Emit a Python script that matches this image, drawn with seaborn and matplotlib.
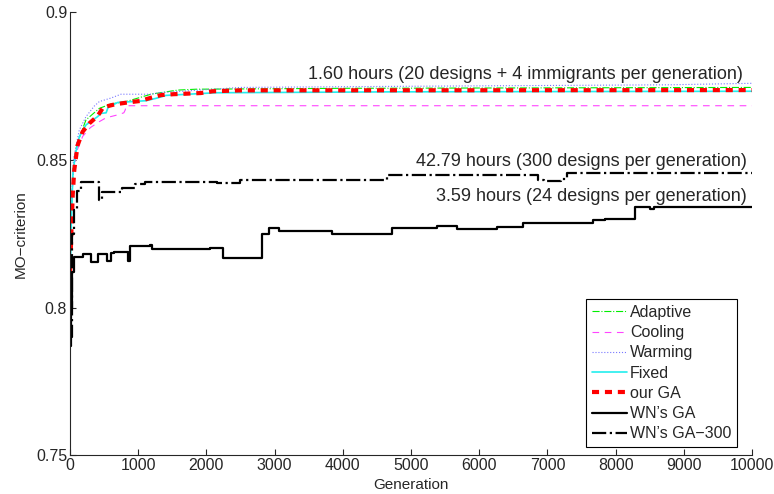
import matplotlib
matplotlib.use('Agg')
import matplotlib.pyplot as plt
import seaborn as sns
import pandas as pd

adaptive_gen = [0, 20, 50, 100, 160, 235, 430, 600, 821, 1188, 1408, 1579, 1848, 4000, 10000]
adaptive_val = [0.810, 0.832, 0.848, 0.855, 0.859, 0.8636, 0.8675, 0.8690, 0.8698, 0.8723, 0.8731, 0.8737, 0.8740, 0.8743, 0.8746]

cooling_gen = [0, 20, 50, 100, 186, 300, 430, 528, 699, 790, 811, 820, 10000]
cooling_val = [0.808, 0.830, 0.846, 0.853, 0.858, 0.861, 0.863, 0.8643, 0.8653, 0.866, 0.867, 0.8684, 0.8684]

warming_gen = [0, 20, 50, 100, 137, 235, 357, 430, 600, 748, 1188, 1300, 2500, 5000, 8800, 10000]
warming_val = [0.810, 0.835, 0.850, 0.856, 0.8602, 0.8647, 0.8683, 0.8698, 0.8710, 0.8723, 0.8723, 0.8728, 0.8746, 0.8750, 0.8755, 0.8760]

fixed_gen = [0, 20, 44, 80, 137, 235, 405, 455, 530, 560, 674, 700, 1114, 1261, 1408, 2141, 4736, 10000]
fixed_val = [0.805, 0.830, 0.8456, 0.852, 0.8579, 0.8619, 0.8647, 0.8658, 0.8660, 0.8679, 0.8692, 0.8695, 0.8701, 0.8709, 0.8719, 0.8728, 0.8731, 0.8733]

ourga_gen = [0, 20, 40, 63, 112, 186, 283, 405, 489, 665, 845, 1026, 1188, 1334, 1515, 1725, 1920, 2092, 2500, 10000]
ourga_val = [0.811, 0.825, 0.838, 0.8466, 0.855, 0.8596, 0.8624, 0.8649, 0.8679, 0.8689, 0.8695, 0.870, 0.8711, 0.872, 0.8723, 0.8725, 0.8727, 0.8733, 0.8736, 0.8737]

wn_gen = [0, 15, 30, 63, 186, 306, 404, 550, 599, 640, 855, 880, 1173, 1198, 2053, 2248, 2810, 2923, 3065,
          3837, 4726, 5377, 5670, 6256, 6647, 7673, 7845, 8284, 8504, 8560, 10000]
wn_val = [0.787, 0.800, 0.812, 0.8172, 0.8181, 0.8154, 0.8181, 0.8159, 0.8184, 0.8187, 0.8159, 0.8208, 0.8212,
          0.8197, 0.8201, 0.8167, 0.8248, 0.8268, 0.8259, 0.8248, 0.8270, 0.8276, 0.8266, 0.8272, 0.8287,
          0.8297, 0.8300, 0.8340, 0.8333, 0.8340, 0.8340]

wn300_gen = [0, 30, 60, 110, 160, 430, 470, 758, 953, 1100, 2151, 2493, 4643, 6867, 6950, 7200, 7283, 10000]
wn300_val = [0.790, 0.825, 0.833, 0.8395, 0.8427, 0.8364, 0.8392, 0.8404, 0.8418, 0.8426, 0.8421, 0.8432,
             0.8449, 0.8432, 0.8428, 0.8436, 0.8457, 0.8457]

notes = ['1.60 hours (20 designs + 4 immigrants per generation)',
         '42.79 hours (300 designs per generation)',
         '3.59 hours (24 designs per generation)']
note_x = [9870, 9930, 9930]
note_y = [0.8776, 0.8480, 0.8360]

sns.set_style('ticks')
plt.rcParams['font.family'] = ['Liberation Sans', 'DejaVu Sans']
plt.rcParams['xtick.direction'] = 'in'
plt.rcParams['ytick.direction'] = 'in'

fig = plt.figure(figsize=(7.74, 4.94), dpi=100)
ax = fig.add_axes([0.0904, 0.0789, 0.8812, 0.8958])

sns.lineplot(x=adaptive_gen, y=adaptive_val, ax=ax, color='#00ee00', lw=0.8, linestyle='-.', label='Adaptive')
sns.lineplot(x=cooling_gen, y=cooling_val, ax=ax, color='#ff44ff', lw=0.8, dashes=(6, 5), label='Cooling')
sns.lineplot(x=warming_gen, y=warming_val, ax=ax, color='#7777ff', lw=0.8, linestyle=':', label='Warming')
sns.lineplot(x=fixed_gen, y=fixed_val, ax=ax, color='#22eeee', lw=1.2, label='Fixed')
sns.lineplot(x=ourga_gen, y=ourga_val, ax=ax, color='#ff0000', lw=3, dashes=(1.7, 1.4), label='our GA')
sns.lineplot(x=wn_gen, y=wn_val, ax=ax, color='black', lw=1.6, drawstyle='steps-post', label='WN\u2019s GA')
sns.lineplot(x=wn300_gen, y=wn300_val, ax=ax, color='black', lw=1.6, linestyle='-.',
             drawstyle='steps-post', label='WN\u2019s GA\u2212300')

for t, x, y in zip(notes, note_x, note_y):
    ax.text(x, y, t, ha='right', va='baseline', fontsize=13)

ax.set_xlim(0, 10000)
ax.set_ylim(0.75, 0.9)
ax.set_xticks(range(0, 10001, 1000))
ax.set_yticks([0.75, 0.8, 0.85, 0.9])
ax.set_yticklabels(['0.75', '0.8', '0.85', '0.9'])
ax.tick_params(labelsize=11.5, length=4, width=0.8, pad=2)
ax.set_xlabel('Generation', fontsize=11, labelpad=4)
ax.set_ylabel('MO\u2212criterion', fontsize=11, labelpad=6)
sns.despine(ax=ax)

leg = ax.legend(loc='lower right', bbox_to_anchor=(0.978, 0.018), fontsize=11.5, frameon=True, fancybox=False,
                edgecolor='black', framealpha=1, handlelength=2.2, labelspacing=0.33,
                handletextpad=0.2, borderpad=0.35, borderaxespad=0)
leg.get_frame().set_linewidth(0.8)

fig.savefig('out.png', dpi=100)
